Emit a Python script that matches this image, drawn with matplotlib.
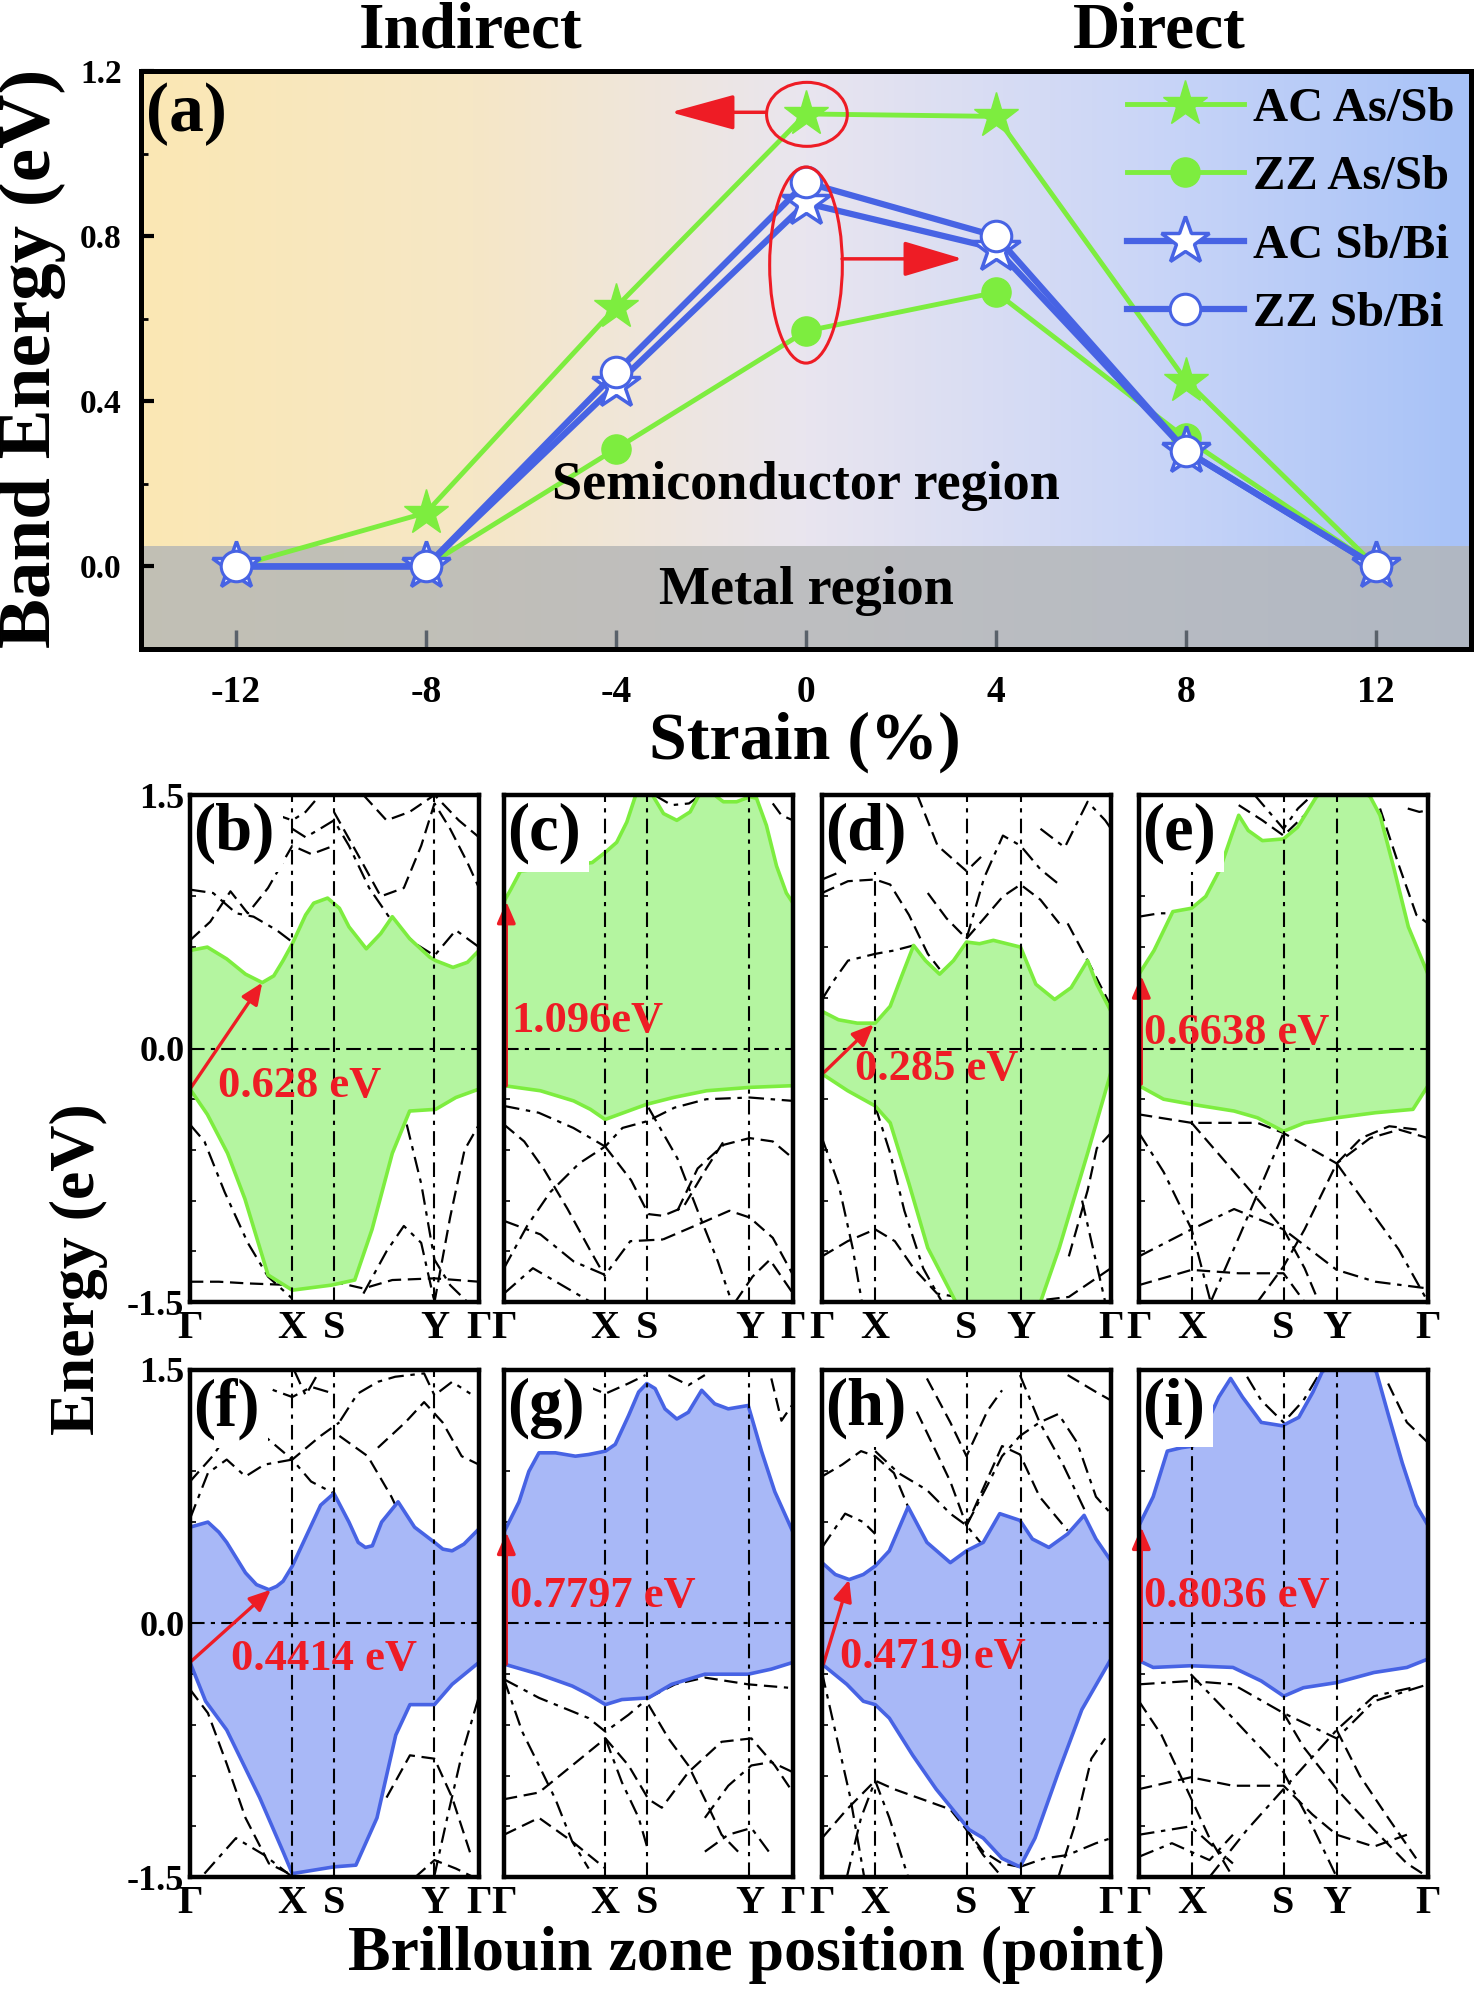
import numpy as np
import matplotlib
matplotlib.use('Agg')
import matplotlib.pyplot as plt
from matplotlib.colors import LinearSegmentedColormap
from matplotlib.patches import Ellipse

#--- data: panel (a) ---#
strain = [-12, -8, -4, 0, 4, 8, 12]
ac_assb = [0.0, 0.13, 0.628, 1.096, 1.09, 0.45, 0.0]
zz_assb = [0.0, 0.0, 0.285, 0.57, 0.6638, 0.31, 0.0]
ac_sbbi = [0.0, 0.0, 0.44, 0.88, 0.77, 0.28, 0.0]
zz_sbbi = [0.0, 0.0, 0.47, 0.93, 0.80, 0.28, 0.0]
series_names = ['AC As/Sb', 'ZZ As/Sb', 'AC Sb/Bi', 'ZZ Sb/Bi']
ytick_a = [0.0, 0.4, 0.8, 1.2]

#--- data: band structures (k normalised 0..1, E in eV) ---#
kpath_labels = ['Γ', 'X', 'S', 'Y', 'Γ']

b_ticks = [0, 0.354, 0.498, 0.846, 1.0]
b_cbm_k = [0, 0.06, 0.127, 0.192, 0.25, 0.29, 0.322, 0.354, 0.40, 0.428, 0.476, 0.517, 0.55, 0.61, 0.66, 0.70, 0.76, 0.83, 0.85, 0.91, 0.96, 1.0]
b_cbm_e = [0.58, 0.60, 0.53, 0.44, 0.39, 0.43, 0.52, 0.62, 0.79, 0.86, 0.89, 0.83, 0.72, 0.59, 0.68, 0.78, 0.65, 0.54, 0.52, 0.48, 0.51, 0.58]
b_vbm_k = [0, 0.06, 0.13, 0.19, 0.27, 0.354, 0.49, 0.57, 0.63, 0.70, 0.76, 0.85, 0.92, 1.0]
b_vbm_e = [-0.24, -0.39, -0.62, -0.89, -1.34, -1.43, -1.40, -1.37, -1.07, -0.62, -0.37, -0.36, -0.29, -0.24]
b_bands = [
    ([0, 0.08, 0.16, 0.22, 0.30, 0.354], [0.94, 0.92, 0.80, 0.78, 0.70, 0.63]),
    ([0, 0.07, 0.14, 0.20, 0.27, 0.354, 0.42, 0.498], [0.64, 0.75, 0.93, 0.80, 0.95, 1.20, 1.15, 1.20]),
    ([0.354, 0.40, 0.45, 0.498, 0.55, 0.62, 0.70, 0.78, 0.846, 0.92, 1.0], [1.30, 1.25, 1.30, 1.35, 1.20, 0.95, 0.75, 0.62, 0.55, 0.70, 0.60]),
    ([0.498, 0.58, 0.66, 0.74, 0.80, 0.846, 0.90, 0.96, 1.0], [1.40, 1.15, 0.90, 0.95, 1.20, 1.45, 1.30, 1.10, 0.95]),
    ([0.20, 0.27, 0.354, 0.40, 0.45], [1.50, 1.40, 1.35, 1.40, 1.50]),
    ([0.60, 0.68, 0.76, 0.846, 0.93, 1.0], [1.50, 1.35, 1.40, 1.50, 1.35, 1.25]),
    ([0, 0.05, 0.12, 0.20, 0.27, 0.354], [-0.45, -0.55, -0.85, -1.15, -1.35, -1.48]),
    ([0, 0.10, 0.20, 0.354, 0.498, 0.60, 0.70, 0.846, 1.0], [-1.38, -1.38, -1.39, -1.40, -1.38, -1.42, -1.37, -1.36, -1.38]),
    ([0.60, 0.68, 0.74, 0.80, 0.846], [-1.45, -1.20, -1.05, -1.15, -1.50]),
    ([0.846, 0.90, 0.95, 1.0], [-1.50, -1.00, -0.60, -0.45]),
    ([0.75, 0.80, 0.846, 0.90, 0.96], [-0.45, -0.80, -1.25, -1.40, -1.50]),
]
b_gap = ((0, -0.24), (0.25, 0.39), '0.628 eV')

c_ticks = [0, 0.35, 0.496, 0.849, 1.0]
c_cbm_k = [0, 0.023, 0.057, 0.305, 0.35, 0.39, 0.425, 0.454, 0.485, 0.517, 0.552, 0.598, 0.644, 0.672, 0.70, 0.736, 0.759, 0.805, 0.851, 0.874, 0.908, 0.943, 0.977, 1.0]
c_cbm_e = [0.87, 0.94, 1.05, 1.10, 1.16, 1.22, 1.34, 1.49, 1.60, 1.49, 1.39, 1.35, 1.40, 1.49, 1.55, 1.49, 1.46, 1.46, 1.49, 1.48, 1.32, 1.08, 0.92, 0.86]
c_vbm_k = [0, 0.126, 0.241, 0.299, 0.35, 0.414, 0.494, 0.586, 0.701, 0.851, 1.0]
c_vbm_e = [-0.22, -0.25, -0.31, -0.36, -0.42, -0.38, -0.33, -0.29, -0.25, -0.23, -0.22]
c_bands = [
    ([0, 0.12, 0.24, 0.35, 0.41, 0.496, 0.59, 0.70, 0.85, 1.0], [-0.34, -0.38, -0.47, -0.58, -0.47, -0.43, -0.35, -0.30, -0.29, -0.31]),
    ([0, 0.07, 0.14, 0.22, 0.30, 0.35], [-0.45, -0.55, -0.72, -0.95, -1.20, -1.35]),
    ([0, 0.08, 0.16, 0.26, 0.35], [-1.30, -1.05, -0.85, -0.68, -0.58]),
    ([0.35, 0.44, 0.50, 0.55, 0.62, 0.70, 0.76], [-0.58, -0.78, -0.98, -0.99, -0.94, -0.71, -0.55]),
    ([0, 0.126, 0.241, 0.35, 0.437, 0.55], [-1.02, -1.10, -1.26, -1.34, -1.14, -1.13]),
    ([0.55, 0.70, 0.78, 0.85, 0.93, 1.0], [-1.13, -1.02, -0.96, -1.00, -1.12, -1.34]),
    ([0.50, 0.60, 0.67, 0.74, 0.78], [-0.35, -0.65, -0.96, -1.26, -1.46]),
    ([0.60, 0.67, 0.76, 0.85, 0.93, 1.0], [-0.96, -0.71, -0.57, -0.53, -0.55, -0.65]),
    ([0.0, 0.10, 0.20, 0.30], [-1.45, -1.30, -1.40, -1.50]),
    ([0.80, 0.86, 0.92, 1.0], [-1.50, -1.35, -1.25, -1.45]),
    ([0.52, 0.58, 0.64, 0.68], [1.50, 1.44, 1.45, 1.50]),
    ([0.93, 0.96, 1.0], [1.45, 1.38, 1.35]),
]
c_gap = ((0.008, -0.22), (0.008, 0.87), '1.096eV')

d_ticks = [0, 0.184, 0.50, 0.687, 1.0]
d_cbm_k = [0, 0.057, 0.122, 0.184, 0.236, 0.276, 0.317, 0.358, 0.407, 0.455, 0.50, 0.545, 0.593, 0.687, 0.74, 0.805, 0.862, 0.919, 0.951, 1.0]
d_cbm_e = [0.22, 0.17, 0.15, 0.15, 0.25, 0.43, 0.61, 0.52, 0.44, 0.52, 0.63, 0.62, 0.64, 0.60, 0.38, 0.29, 0.36, 0.52, 0.38, 0.22]
d_vbm_k = [0, 0.089, 0.184, 0.236, 0.301, 0.366, 0.463, 0.50, 0.687, 0.756, 0.821, 0.919, 1.0]
d_vbm_e = [-0.15, -0.25, -0.34, -0.44, -0.80, -1.18, -1.50, -1.60, -1.60, -1.50, -1.18, -0.62, -0.14]
d_bands = [
    ([0, 0.04, 0.09, 0.184, 0.25, 0.317], [0.29, 0.40, 0.52, 0.56, 0.58, 0.61]),
    ([0, 0.09, 0.184, 0.236, 0.301, 0.366, 0.407], [0.92, 0.99, 1.00, 0.97, 0.79, 0.56, 0.47]),
    ([0, 0.07, 0.14, 0.184, 0.24], [1.00, 1.05, 1.08, 1.10, 1.20]),
    ([0.366, 0.431, 0.50, 0.561, 0.626, 0.687, 0.756, 0.821], [0.92, 0.77, 0.65, 0.77, 0.90, 0.97, 0.88, 0.74]),
    ([0.50, 0.561, 0.626, 0.687, 0.756, 0.821], [0.65, 1.01, 1.26, 1.20, 1.06, 0.97]),
    ([0.33, 0.40, 0.50, 0.56], [1.50, 1.20, 1.05, 1.15]),
    ([0.756, 0.84, 0.919, 0.98, 1.0], [1.30, 1.19, 1.46, 1.35, 1.30]),
    ([0.85, 0.919, 1.0], [0.74, 0.52, 0.25]),
    ([0, 0.057, 0.106, 0.138], [-0.53, -0.80, -1.18, -1.50]),
    ([0, 0.089, 0.184, 0.252, 0.317, 0.398, 0.50, 0.626, 0.756, 0.854, 1.0], [-1.23, -1.14, -1.07, -1.14, -1.30, -1.45, -1.48, -1.49, -1.49, -1.47, -1.30]),
    ([0.184, 0.236, 0.285, 0.35, 0.415], [-0.34, -0.62, -0.96, -1.30, -1.50]),
    ([0.854, 0.919, 0.951, 1.0], [-1.23, -0.84, -0.59, -0.50]),
    ([0.90, 0.94, 0.98], [-0.90, -1.20, -1.50]),
]
d_gap = ((0.008, -0.14), (0.179, 0.143), '0.285 eV')

e_ticks = [0, 0.182, 0.50, 0.684, 1.0]
e_cbm_k = [0, 0.052, 0.117, 0.182, 0.231, 0.28, 0.32, 0.345, 0.378, 0.427, 0.50, 0.549, 0.614, 0.70, 0.80, 0.834, 0.883, 0.932, 1.0]
e_cbm_e = [0.44, 0.58, 0.81, 0.83, 0.90, 1.06, 1.26, 1.38, 1.29, 1.23, 1.24, 1.31, 1.49, 1.60, 1.49, 1.38, 1.06, 0.72, 0.44]
e_vbm_k = [0, 0.085, 0.182, 0.329, 0.41, 0.50, 0.573, 0.684, 0.818, 0.948, 1.0]
e_vbm_e = [-0.22, -0.30, -0.33, -0.37, -0.41, -0.49, -0.44, -0.41, -0.38, -0.36, -0.22]
e_bands = [
    ([0, 0.07, 0.13, 0.182], [0.78, 0.80, 0.80, 0.83]),
    ([0.345, 0.427, 0.50, 0.573, 0.62], [1.44, 1.35, 1.26, 1.38, 1.49]),
    ([0.40, 0.45, 0.50, 0.55, 0.60], [1.50, 1.40, 1.30, 1.42, 1.50]),
    ([0.834, 0.90, 0.96, 1.0], [1.42, 1.08, 0.79, 0.74]),
    ([0.93, 0.97, 1.0], [1.42, 1.40, 1.41]),
    ([0, 0.182, 0.41, 0.50, 0.684, 0.80, 0.90, 1.0], [-0.39, -0.44, -0.44, -0.50, -0.68, -0.53, -0.48, -0.53]),
    ([0, 0.085, 0.182, 0.248], [-0.50, -0.73, -1.07, -1.50]),
    ([0.182, 0.329, 0.50, 0.573, 0.622], [-0.44, -0.73, -1.07, -1.30, -1.50]),
    ([0, 0.182, 0.329, 0.50, 0.684, 0.818, 1.0], [-1.23, -1.07, -0.95, -1.07, -1.31, -1.38, -1.42]),
    ([0.41, 0.50, 0.573, 0.684, 0.769, 0.866, 0.964], [-1.50, -1.29, -1.07, -0.68, -0.53, -0.46, -0.48]),
    ([0.684, 0.785, 0.899, 1.0], [-0.68, -0.92, -1.19, -1.50]),
    ([0, 0.182, 0.345, 0.50, 0.573], [-1.40, -1.31, -1.33, -1.33, -1.50]),
    ([0.248, 0.35, 0.45, 0.50], [-1.50, -1.10, -0.70, -0.50]),
]
e_gap = ((0.008, -0.21), (0.008, 0.43), '0.6638 eV')

f_ticks = [0, 0.354, 0.498, 0.846, 1.0]
f_cbm_k = [0, 0.062, 0.10, 0.127, 0.192, 0.23, 0.273, 0.30, 0.322, 0.354, 0.403, 0.452, 0.498, 0.55, 0.582, 0.607, 0.631, 0.663, 0.72, 0.777, 0.846, 0.875, 0.907, 0.948, 1.0]
f_cbm_e = [0.57, 0.60, 0.54, 0.48, 0.30, 0.23, 0.20, 0.22, 0.25, 0.34, 0.52, 0.70, 0.77, 0.60, 0.48, 0.45, 0.46, 0.60, 0.72, 0.57, 0.48, 0.44, 0.43, 0.47, 0.56]
f_vbm_k = [0, 0.054, 0.127, 0.241, 0.322, 0.354, 0.498, 0.574, 0.647, 0.712, 0.761, 0.846, 0.907, 1.0]
f_vbm_e = [-0.23, -0.46, -0.63, -1.03, -1.35, -1.48, -1.44, -1.43, -1.15, -0.66, -0.48, -0.48, -0.36, -0.23]
f_bands = [
    ([0, 0.062, 0.127, 0.192, 0.257, 0.354, 0.419, 0.498], [0.62, 0.89, 0.97, 0.87, 0.94, 0.97, 0.84, 0.77]),
    ([0, 0.078, 0.159, 0.257, 0.354, 0.452, 0.517], [0.84, 0.99, 1.19, 1.11, 0.97, 1.11, 1.19]),
    ([0.22, 0.29, 0.354, 0.42, 0.498], [1.45, 1.38, 1.34, 1.40, 1.36]),
    ([0.517, 0.615, 0.697, 0.761, 0.846], [1.11, 0.99, 0.75, 0.52, 0.48]),
    ([0.52, 0.58, 0.65, 0.71, 0.81, 0.846, 0.907, 0.97], [1.20, 1.36, 1.43, 1.46, 1.48, 1.35, 1.43, 1.36]),
    ([0.65, 0.745, 0.81, 0.874, 0.94, 1.0], [1.04, 1.19, 1.31, 1.19, 0.99, 0.94]),
    ([0.36, 0.40, 0.45], [1.50, 1.35, 1.50]),
    ([0, 0.062, 0.127, 0.192, 0.273, 0.354], [-0.39, -0.53, -0.83, -1.15, -1.42, -1.49]),
    ([0.05, 0.159, 0.257, 0.354], [-1.48, -1.27, -1.37, -1.50]),
    ([0.680, 0.761, 0.846, 0.907, 0.972], [-1.03, -0.78, -0.80, -1.03, -1.37]),
    ([0.846, 0.89, 0.94, 1.0], [-1.49, -1.15, -0.78, -0.43]),
    ([0.78, 0.846, 0.92, 0.98], [-1.50, -1.40, -1.45, -1.50]),
]
f_gap = ((0, -0.23), (0.28, 0.20), '0.4414 eV')

g_ticks = [0, 0.35, 0.496, 0.849, 1.0]
g_cbm_k = [0, 0.052, 0.086, 0.121, 0.178, 0.247, 0.293, 0.351, 0.385, 0.431, 0.466, 0.494, 0.523, 0.557, 0.598, 0.638, 0.684, 0.729, 0.776, 0.845, 0.891, 0.937, 1.0]
g_cbm_e = [0.54, 0.72, 0.90, 1.01, 1.01, 0.99, 1.00, 1.02, 1.06, 1.23, 1.37, 1.42, 1.39, 1.27, 1.21, 1.25, 1.38, 1.30, 1.27, 1.29, 1.02, 0.78, 0.54]
g_vbm_k = [0, 0.121, 0.236, 0.293, 0.351, 0.408, 0.50, 0.58, 0.695, 0.845, 0.925, 1.0]
g_vbm_e = [-0.24, -0.30, -0.37, -0.42, -0.48, -0.45, -0.44, -0.36, -0.30, -0.30, -0.27, -0.23]
g_bands = [
    ([0, 0.121, 0.236, 0.293, 0.351, 0.431, 0.50], [-0.33, -0.44, -0.52, -0.56, -0.64, -0.54, -0.44]),
    ([0.50, 0.592, 0.695, 0.845, 0.983], [-0.44, -0.36, -0.32, -0.36, -0.38]),
    ([0, 0.063, 0.121, 0.178, 0.236, 0.293], [-0.33, -0.64, -0.84, -1.04, -1.29, -1.45]),
    ([0, 0.121, 0.236, 0.351, 0.431, 0.50, 0.546, 0.638, 0.753, 0.856, 0.937, 1.0], [-1.04, -1.00, -0.84, -0.68, -0.84, -1.04, -1.09, -0.88, -0.70, -0.68, -0.84, -1.00]),
    ([0.351, 0.408, 0.466, 0.50], [-0.68, -0.94, -1.15, -1.35]),
    ([0.50, 0.569, 0.638, 0.695, 0.753, 0.81], [-0.48, -0.68, -0.84, -1.04, -1.25, -1.35]),
    ([0.695, 0.776, 0.856, 0.925, 1.0], [-1.15, -0.96, -0.84, -0.82, -0.88]),
    ([0, 0.121, 0.236, 0.351], [-1.25, -1.15, -1.29, -1.45]),
    ([0.695, 0.776, 0.856, 0.925], [-1.35, -1.25, -1.21, -1.37]),
    ([0.293, 0.351, 0.43, 0.49], [1.40, 1.36, 1.42, 1.47]),
    ([0.569, 0.638, 0.695], [1.47, 1.41, 1.47]),
    ([0.925, 0.96, 1.0], [1.45, 1.20, 1.30]),
]
g_gap = ((0.008, -0.24), (0.008, 0.54), '0.7797 eV')

h_ticks = [0, 0.184, 0.50, 0.687, 1.0]
h_cbm_k = [0, 0.046, 0.094, 0.143, 0.184, 0.233, 0.298, 0.363, 0.444, 0.50, 0.558, 0.615, 0.685, 0.728, 0.785, 0.85, 0.907, 0.948, 1.0]
h_cbm_e = [0.36, 0.29, 0.26, 0.29, 0.34, 0.43, 0.69, 0.48, 0.36, 0.43, 0.48, 0.65, 0.61, 0.50, 0.45, 0.53, 0.64, 0.50, 0.37]
h_vbm_k = [0, 0.086, 0.143, 0.184, 0.233, 0.314, 0.395, 0.476, 0.509, 0.558, 0.623, 0.685, 0.737, 0.818, 0.899, 1.0]
h_vbm_e = [-0.24, -0.36, -0.46, -0.48, -0.56, -0.78, -0.98, -1.15, -1.22, -1.27, -1.39, -1.44, -1.27, -0.88, -0.51, -0.21]
h_bands = [
    ([0, 0.08, 0.143, 0.184], [0.45, 0.65, 0.60, 0.53]),
    ([0, 0.07, 0.135, 0.184, 0.249, 0.298], [0.87, 0.94, 1.02, 0.99, 0.89, 0.69]),
    ([0.184, 0.265, 0.363, 0.444, 0.50, 0.558], [1.02, 0.89, 0.79, 0.65, 0.58, 0.46]),
    ([0.298, 0.363, 0.444, 0.50, 0.558, 0.623, 0.685, 0.753, 0.85], [1.36, 1.13, 0.84, 0.58, 0.80, 1.05, 1.00, 0.75, 0.55]),
    ([0.50, 0.573, 0.623, 0.685, 0.753, 0.818, 0.883, 0.948, 1.0], [0.58, 0.82, 0.99, 1.11, 1.19, 1.24, 1.07, 0.75, 0.65]),
    ([0.363, 0.444, 0.50, 0.573, 0.623], [1.45, 1.19, 0.99, 1.26, 1.38]),
    ([0.685, 0.753, 0.834, 0.915], [1.47, 1.19, 0.94, 0.65]),
    ([0.85, 0.948, 1.0], [1.47, 1.37, 1.32]),
    ([0, 0.049, 0.098, 0.146], [-0.29, -0.66, -1.03, -1.50]),
    ([0, 0.086, 0.184, 0.249, 0.363, 0.444, 0.50, 0.558, 0.623, 0.685], [-1.27, -1.10, -0.93, -0.98, -1.05, -1.10, -1.22, -1.35, -1.42, -1.44]),
    ([0.086, 0.135, 0.184, 0.233, 0.298], [-1.50, -1.15, -0.93, -1.15, -1.50]),
    ([0.50, 0.558, 0.623], [-1.22, -1.37, -1.50]),
    ([0.685, 0.769, 0.85, 0.948, 1.0], [-1.44, -1.39, -1.37, -1.30, -1.27]),
    ([0.818, 0.883, 0.932, 0.98], [-1.50, -1.15, -0.80, -0.68]),
]
h_gap = ((0.005, -0.24), (0.094, 0.26), '0.4719 eV')

i_ticks = [0, 0.182, 0.50, 0.684, 1.0]
i_cbm_k = [0, 0.049, 0.098, 0.146, 0.187, 0.244, 0.276, 0.317, 0.358, 0.423, 0.496, 0.553, 0.602, 0.634, 0.73, 0.821, 0.862, 0.911, 0.959, 1.0]
i_cbm_e = [0.58, 0.75, 1.02, 1.04, 1.05, 1.22, 1.34, 1.45, 1.34, 1.19, 1.17, 1.22, 1.37, 1.49, 1.60, 1.49, 1.24, 0.95, 0.70, 0.58]
i_vbm_k = [0, 0.049, 0.179, 0.325, 0.423, 0.501, 0.569, 0.683, 0.813, 0.927, 1.0]
i_vbm_e = [-0.22, -0.26, -0.25, -0.26, -0.34, -0.43, -0.38, -0.35, -0.29, -0.26, -0.21]
i_bands = [
    ([0.374, 0.423, 0.50, 0.569, 0.618], [1.46, 1.32, 1.19, 1.32, 1.46]),
    ([0.862, 0.927, 1.0], [1.42, 1.19, 1.07]),
    ([0, 0.179, 0.325, 0.50, 0.684, 0.813, 1.0], [-0.36, -0.34, -0.36, -0.53, -0.68, -0.46, -0.36]),
    ([0, 0.078, 0.179, 0.244, 0.325], [-0.46, -0.66, -1.03, -1.27, -1.50]),
    ([0.179, 0.325, 0.50, 0.60, 0.684], [-0.30, -0.56, -0.88, -1.20, -1.50]),
    ([0.50, 0.569, 0.684, 0.813, 0.927, 1.0], [-0.53, -0.73, -0.98, -1.22, -1.42, -1.50]),
    ([0.244, 0.374, 0.50, 0.684, 0.813, 0.943], [-1.50, -1.22, -0.98, -0.63, -0.43, -0.38]),
    ([0, 0.179, 0.325, 0.50, 0.60, 0.684, 0.813, 0.927], [-0.98, -0.91, -0.96, -0.96, -1.13, -1.25, -1.32, -1.25]),
    ([0, 0.179, 0.244, 0.325], [-1.25, -1.20, -1.30, -1.42]),
    ([0.684, 0.764, 0.862, 0.959], [-0.63, -0.90, -1.15, -1.39]),
    ([0, 0.114, 0.244, 0.325], [-1.38, -1.30, -1.40, -1.25]),
]
i_gap = ((0.008, -0.22), (0.008, 0.57), '0.8036 eV')

#--- styles ---#
plt.rcParams['font.family'] = ['Liberation Serif', 'DejaVu Serif']
plt.rcParams['font.weight'] = 'bold'
plt.rcParams['axes.unicode_minus'] = False

green = '#7ded3f'
green_fill = '#b4f5a0'
blue = '#4763e4'
blue_fill = '#a8b8f7'
red = '#ee1c25'
dashdot = (0, (7, 3, 2, 3))
dashed = (0, (6, 3))

W, H = 1477, 1992
fig = plt.figure(figsize=(W / 100, H / 100), dpi=100)


def draw_band(ax, ticks, cbm_k, cbm_e, vbm_k, vbm_e, bands, gap, label,
              text_xy, fill_c, edge_c, show_y):
    ax.set_xlim(0, 1)
    ax.set_ylim(-1.5, 1.5)
    for i, (k, e) in enumerate(bands):
        ax.plot(k, e, color='black', lw=1.6, ls=dashdot if i % 2 == 0 else dashed, zorder=2)
    ax.fill(list(cbm_k) + list(vbm_k[::-1]), list(cbm_e) + list(vbm_e[::-1]),
            color=fill_c, lw=0, zorder=3)
    ax.plot(cbm_k, cbm_e, color=edge_c, lw=2.6, zorder=4, solid_joinstyle='round')
    ax.plot(vbm_k, vbm_e, color=edge_c, lw=2.6, zorder=4, solid_joinstyle='round')
    for t in ticks[1:-1]:
        ax.axvline(t, color='black', lw=1.5, ls=dashdot, zorder=5)
    ax.axhline(0, color='black', lw=1.5, ls=dashdot, zorder=5)
    # band gap arrow
    ax.annotate('', xy=gap[1], xytext=gap[0], zorder=7,
                arrowprops=dict(arrowstyle='-|>,head_length=0.65,head_width=0.28',
                                color=red, lw=2.4, shrinkA=0, shrinkB=0, mutation_scale=20))
    ax.text(text_xy[0], text_xy[1], gap[2], color=red, fontsize=32, fontweight='bold',
            ha='left', va='center', zorder=8)
    ax.text(0.012, 0.985, label, transform=ax.transAxes, fontsize=48, fontweight='bold',
            ha='left', va='top', zorder=9,
            bbox=dict(boxstyle='square,pad=0.12', fc='white', ec='none'))
    ax.set_xticks(ticks)
    ax.set_xticklabels(kpath_labels)
    ax.tick_params(axis='x', length=0, pad=6, labelsize=29)
    ax.set_yticks([-1.5, 0.0, 1.5])
    ax.set_yticks([-1.2, -0.9, -0.6, -0.3, 0.3, 0.6, 0.9, 1.2], minor=True)
    ax.tick_params(axis='y', which='both', direction='in', length=4, width=1.2, pad=4,
                   labelsize=26, labelleft=show_y)
    if show_y:
        ax.set_yticklabels(['-1.5', '0.0', '1.5'])
    for sp in ax.spines.values():
        sp.set_linewidth(3.2)
        sp.set_zorder(10)


#--- panel (a) ---#
ax = fig.add_axes([141 / W, 1 - 649 / H, 1330 / W, 578 / H])
bg = LinearSegmentedColormap.from_list(
    'bg', ['#fbe8b4', '#f6e7c6', '#e9e5ef', '#cbd6f7', '#a7c2f8'])
ax.imshow(np.linspace(0, 1, 256).reshape(1, -1), extent=[-14, 14, -0.2, 1.2],
          aspect='auto', cmap=bg, zorder=0)
ax.axhspan(-0.2, 0.05, color='#b3b5b5', alpha=0.8, lw=0, zorder=1)

ax.plot(strain, ac_assb, color=green, lw=3.5, marker='*', ms=34, mfc=green, mec=green,
        label=series_names[0], zorder=3)
ax.plot(strain, zz_assb, color=green, lw=3.5, marker='o', ms=21, mfc=green, mec=green,
        label=series_names[1], zorder=3)
ax.plot(strain, ac_sbbi, color=blue, lw=4.5, marker='*', ms=36, mfc='white', mec=blue,
        mew=2.5, label=series_names[2], zorder=4)
ax.plot(strain, zz_sbbi, color=blue, lw=4.5, marker='o', ms=22, mfc='white', mec=blue,
        mew=2.2, label=series_names[3], zorder=5)

ax.add_patch(Ellipse((0.02, 1.095), 1.7, 0.155, fill=False, ec=red, lw=2.2, zorder=7))
ax.add_patch(Ellipse((0.0, 0.73), 1.53, 0.475, fill=False, ec=red, lw=2.2, zorder=7))
ax.annotate('', xy=(-2.85, 1.1), xytext=(-0.85, 1.1), zorder=7,
            arrowprops=dict(arrowstyle='-|>,head_length=2.0,head_width=0.55', color=red,
                            lw=2.5, shrinkA=0, shrinkB=0, mutation_scale=20))
ax.annotate('', xy=(3.3, 0.745), xytext=(0.76, 0.745), zorder=7,
            arrowprops=dict(arrowstyle='-|>,head_length=1.85,head_width=0.55', color=red,
                            lw=2.5, shrinkA=0, shrinkB=0, mutation_scale=20))

ax.text(0.0, 0.195, 'Semiconductor region', fontsize=39, fontweight='bold',
        ha='center', va='center', zorder=6)
ax.text(0.0, -0.06, 'Metal region', fontsize=39, fontweight='bold',
        ha='center', va='center', zorder=6)
ax.text(0.004, 0.925, '(a)', transform=ax.transAxes, fontsize=50, fontweight='bold',
        ha='left', va='center', zorder=8)

ax.legend(loc='upper right', frameon=False, prop={'size': 35, 'weight': 'bold'},
          handlelength=2.4, labelspacing=0.5, handletextpad=0.2,
          borderaxespad=0.05, borderpad=0.28)

ax.set_xlim(-14, 14)
ax.set_ylim(-0.2, 1.2)
ax.set_xticks(strain)
ax.set_xticklabels([str(s) for s in strain])
ax.set_yticks(ytick_a)
ax.set_yticklabels(['%.1f' % v for v in ytick_a])
ax.set_yticks([0.2, 0.6, 1.0], minor=True)
ax.tick_params(axis='x', direction='in', length=14, width=2.5, color='#59616a',
               pad=19, labelsize=27)
ax.tick_params(axis='y', which='major', direction='in', length=9, width=3, pad=14,
               labelsize=24)
ax.tick_params(axis='y', which='minor', direction='in', length=5, width=2)
for sp in ax.spines.values():
    sp.set_linewidth(3.6)
    sp.set_zorder(10)

#--- band structure panels ---#
lefts = [190, 504, 822, 1139]
tops = [795, 1370]
panels = [
    (b_ticks, b_cbm_k, b_cbm_e, b_vbm_k, b_vbm_e, b_bands, b_gap, '(b)', (0.098, -0.22)),
    (c_ticks, c_cbm_k, c_cbm_e, c_vbm_k, c_vbm_e, c_bands, c_gap, '(c)', (0.025, 0.16)),
    (d_ticks, d_cbm_k, d_cbm_e, d_vbm_k, d_vbm_e, d_bands, d_gap, '(d)', (0.114, -0.12)),
    (e_ticks, e_cbm_k, e_cbm_e, e_vbm_k, e_vbm_e, e_bands, e_gap, '(e)', (0.016, 0.09)),
    (f_ticks, f_cbm_k, f_cbm_e, f_vbm_k, f_vbm_e, f_bands, f_gap, '(f)', (0.143, -0.21)),
    (g_ticks, g_cbm_k, g_cbm_e, g_vbm_k, g_vbm_e, g_bands, g_gap, '(g)', (0.02, 0.16)),
    (h_ticks, h_cbm_k, h_cbm_e, h_vbm_k, h_vbm_e, h_bands, h_gap, '(h)', (0.062, -0.20)),
    (i_ticks, i_cbm_k, i_cbm_e, i_vbm_k, i_vbm_e, i_bands, i_gap, '(i)', (0.016, 0.16)),
]
for n, p in enumerate(panels):
    row, col = divmod(n, 4)
    bax = fig.add_axes([lefts[col] / W, 1 - (tops[row] + 507) / H, 289 / W, 507 / H])
    fill_c, edge_c = (green_fill, green) if row == 0 else (blue_fill, blue)
    draw_band(bax, *p[:8], p[8], fill_c, edge_c, col == 0)

#--- figure texts ---#
fig.text(471 / W, 1 - 32 / H, 'Indirect', fontsize=47, fontweight='bold', ha='center', va='center')
fig.text(1159 / W, 1 - 32 / H, 'Direct', fontsize=47, fontweight='bold', ha='center', va='center')
fig.text(32 / W, 1 - 358 / H, 'Band Energy (eV)', fontsize=54, fontweight='bold',
         rotation=90, ha='center', va='center')
fig.text(805 / W, 1 - 742 / H, 'Strain (%)', fontsize=49, fontweight='bold', ha='center', va='center')
fig.text(79 / W, 1 - 1269 / H, 'Energy (eV)', fontsize=46, fontweight='bold',
         rotation=90, ha='center', va='center')
fig.text(757 / W, 1 - 1955 / H, 'Brillouin zone position (point)', fontsize=46,
         fontweight='bold', ha='center', va='center')

fig.savefig('out.png', dpi=100)
